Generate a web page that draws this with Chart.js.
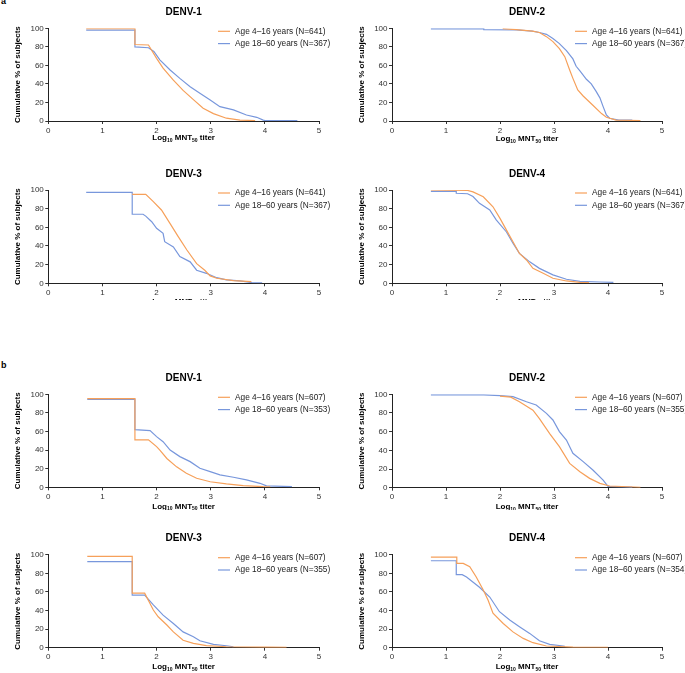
<!DOCTYPE html>
<html>
<head>
<meta charset="utf-8">
<script src="https://cdn.jsdelivr.net/npm/chart.js"></script>
<style>
  body { margin: 0; background: #fff; width: 685px; height: 673px; position: relative; overflow: hidden; }
  canvas { position: absolute; }
  .lab { position: absolute; font: bold 9px "Liberation Sans", Arial, sans-serif; line-height: 9px; color: #000; }
</style>
</head>
<body>
<div class="lab" style="left:1px;top:-3px">a</div>
<div class="lab" style="left:1px;top:361px">b</div>

<canvas id="a1" width="340" height="150" style="left:0;top:0"></canvas>
<canvas id="a2" width="345" height="150" style="left:340px;top:0"></canvas>
<canvas id="a3" width="340" height="150" style="left:0;top:150px"></canvas>
<canvas id="a4" width="345" height="150" style="left:340px;top:150px"></canvas>
<canvas id="b1" width="340" height="170" style="left:0;top:340px"></canvas>
<canvas id="b2" width="345" height="170" style="left:340px;top:340px"></canvas>
<canvas id="b3" width="340" height="153" style="left:0;top:520px"></canvas>
<canvas id="b4" width="345" height="153" style="left:340px;top:520px"></canvas>

<script>
// ---- data (log10 titer, cumulative %) ----
const xTicks = [0, 1, 2, 3, 4, 5];
const yTicks = [0, 20, 40, 60, 80, 100];

// a: DENV-1
const a1OrangeX = [0.7, 1.6, 1.6, 1.85, 2.0, 2.12, 2.31, 2.49, 2.68, 2.86, 3.05, 3.29, 3.54, 3.82];
const a1OrangeY = [99.5, 99.5, 82.5, 82, 67.6, 57, 44, 33, 23, 13.7, 8, 3, 1, 0.4];
const a1BlueX = [0.7, 1.6, 1.6, 1.85, 1.95, 2.06, 2.25, 2.43, 2.62, 2.80, 2.99, 3.17, 3.42, 3.66, 3.85, 3.97, 4.0, 4.6];
const a1BlueY = [98, 98, 80, 79, 75, 66, 55, 46, 37, 30, 22.7, 15.5, 12, 6.5, 4, 1, 0.5, 0.5];
// a: DENV-2
const a2OrangeX = [2.05, 2.3, 2.6, 2.73, 2.86, 2.98, 3.1, 3.2, 3.29, 3.35, 3.44, 3.54, 3.72, 3.88, 3.97, 4.15, 4.6];
const a2OrangeY = [99.5, 98.5, 97, 95.5, 91, 85.6, 78, 69.4, 55, 46, 33.5, 27, 17, 8, 4, 1, 0.5];
const a2BlueX = [0.72, 1.7, 1.7, 2.3, 2.6, 2.73, 2.86, 2.98, 3.1, 3.23, 3.35, 3.41, 3.48, 3.6, 3.69, 3.78, 3.85, 3.91, 3.97, 4.03, 4.2, 4.45];
const a2BlueY = [99.3, 99.3, 98.5, 98.2, 97, 95.5, 93.5, 89, 83.5, 76, 67, 59, 54, 45, 40, 32, 25, 15.5, 6.5, 3, 1, 1];
// a: DENV-3
const a3OrangeX = [1.55, 1.8, 1.94, 2.09, 2.25, 2.4, 2.56, 2.74, 2.89, 2.99, 3.11, 3.42, 3.75];
const a3OrangeY = [95.4, 95.4, 87.5, 78.6, 64, 50, 35.7, 21, 14, 7.9, 5.4, 2.9, 1.8];
const a3BlueX = [0.7, 1.55, 1.55, 1.75, 1.8, 1.91, 2.0, 2.12, 2.15, 2.31, 2.43, 2.62, 2.74, 2.92, 3.11, 3.29, 3.54, 3.76, 3.95];
const a3BlueY = [97.5, 97.5, 74, 74, 72, 66, 59, 53.6, 44.6, 39, 28.6, 23, 14, 10.7, 6, 3.6, 2.5, 0.7, 0.5];
// a: DENV-4
const a4OrangeX = [0.72, 1.4, 1.5, 1.69, 1.87, 2.0, 2.12, 2.24, 2.36, 2.49, 2.61, 2.8, 2.98, 3.23, 3.48, 3.65];
const a4OrangeY = [100, 99.5, 98, 92.8, 82, 69.6, 57, 44.6, 32, 25, 16, 10.7, 5.4, 2.5, 1, 0.7];
const a4BlueX = [0.72, 1.19, 1.19, 1.4, 1.5, 1.62, 1.81, 1.93, 2.12, 2.24, 2.36, 2.55, 2.73, 2.98, 3.23, 3.48, 3.85, 4.1];
const a4BlueY = [98.5, 98.5, 96.5, 96, 93, 85.7, 78.6, 68, 55, 43, 32, 23, 16, 9, 4.3, 2, 1.4, 1];

// b: DENV-1
const b1OrangeX = [0.72, 1.6, 1.6, 1.85, 2.0, 2.06, 2.19, 2.37, 2.55, 2.74, 2.99, 3.29, 3.6, 3.97, 4.1];
const b1OrangeY = [95.3, 95.3, 51, 51, 43.7, 40, 31, 22, 15, 9.7, 6, 3.6, 1.8, 0.7, 0.5];
const b1BlueX = [0.72, 1.6, 1.6, 1.88, 2.0, 2.12, 2.25, 2.43, 2.62, 2.8, 2.99, 3.17, 3.42, 3.66, 3.91, 4.03, 4.5];
const b1BlueY = [94.6, 94.6, 62, 61, 54.5, 49, 40, 33, 27.6, 20.4, 16.8, 13.3, 10.8, 7.9, 4.3, 1.5, 0.7];
// b: DENV-2
const b2OrangeX = [2.0, 2.2, 2.36, 2.61, 2.73, 2.92, 3.1, 3.29, 3.48, 3.66, 3.85, 4.03, 4.6];
const b2OrangeY = [98, 97, 92, 83, 74, 58, 44, 26, 17, 10, 4.6, 1.8, 0.5];
const b2BlueX = [0.72, 1.7, 2.0, 2.24, 2.49, 2.67, 2.86, 2.98, 3.1, 3.23, 3.35, 3.54, 3.72, 3.91, 4.0, 4.45];
const b2BlueY = [99.3, 99.3, 98.5, 97.5, 92, 88.6, 79.6, 72.5, 60, 51, 36.8, 27.9, 19, 8.2, 1.5, 0.7];
// b: DENV-3
const b3OrangeX = [0.72, 1.55, 1.55, 1.78, 1.94, 2.03, 2.19, 2.31, 2.49, 2.68, 2.92, 3.29, 4.03, 4.4];
const b3OrangeY = [98.2, 98.2, 58.6, 58.6, 40.5, 33.3, 24.4, 17, 8, 4.6, 2.2, 1, 0.7, 0.5];
const b3BlueX = [0.72, 1.55, 1.55, 1.78, 1.94, 2.12, 2.31, 2.49, 2.68, 2.8, 3.05, 3.29, 3.42];
const b3BlueY = [92.5, 92.5, 56.5, 56.5, 46, 35, 26, 17, 11.8, 7.5, 3.6, 2.1, 1];
// b: DENV-4
const b4OrangeX = [0.72, 1.2, 1.2, 1.32, 1.44, 1.56, 1.69, 1.78, 1.87, 2.06, 2.24, 2.43, 2.61, 2.86, 3.35, 4.0];
const b4OrangeY = [97.5, 97.5, 90.7, 90.7, 87, 76, 62, 51, 37, 26, 17, 10, 5.4, 1.8, 0.7, 0.5];
const b4BlueX = [0.72, 1.19, 1.19, 1.3, 1.38, 1.62, 1.81, 1.99, 2.18, 2.36, 2.55, 2.73, 2.92, 3.17, 3.2];
const b4BlueY = [93.5, 93.5, 78.5, 78.5, 76, 65, 54.5, 38.7, 29.7, 22.6, 15.4, 7.5, 3.6, 1.8, 1.5];

const legendA = ['Age 4\u201316 years (N=641)', 'Age 18\u201360 years (N=367)'];
const legendB1 = ['Age 4\u201316 years (N=607)', 'Age 18\u201360 years (N=353)'];
const legendB2 = ['Age 4\u201316 years (N=607)', 'Age 18\u201360 years (N=355)'];
const legendB3 = ['Age 4\u201316 years (N=607)', 'Age 18\u201360 years (N=355)'];
const legendB4 = ['Age 4\u201316 years (N=607)', 'Age 18\u201360 years (N=354)'];

const ORANGE = '#f6a05a';
const BLUE = '#7897dc';
const FONT = '"Liberation Sans", Arial, sans-serif';

// draws panel title, axis titles and the in-plot legend
const panelDecor = {
  id: 'panelDecor',
  afterDraw(chart, args, o) {
    const ctx = chart.ctx, a = chart.chartArea;
    ctx.save();
    ctx.fillStyle = '#000';
    ctx.textBaseline = 'middle';

    ctx.textAlign = 'center';
    ctx.font = 'bold 10px ' + FONT;
    ctx.fillText(o.title, (a.left + a.right) / 2, a.top - 16);

    ctx.save();
    ctx.translate(o.yTitleX, (a.top + a.bottom) / 2);
    ctx.rotate(-Math.PI / 2);
    ctx.font = 'bold 8px ' + FONT;
    ctx.fillText('Cumulative % of subjects', 0, 0);
    ctx.restore();

    // x title with subscripts
    const parts = [['Log', 0], ['10', 1], [' MNT', 0], ['50', 1], [' titer', 0]];
    const big = 'bold 8px ' + FONT, small = 'bold 5px ' + FONT;
    let total = 0;
    parts.forEach(p => { ctx.font = p[1] ? small : big; total += ctx.measureText(p[0]).width; });
    let x = (a.left + a.right) / 2 - total / 2;
    const y = a.bottom + o.xTitleDy;
    ctx.textAlign = 'left';
    parts.forEach(p => {
      ctx.font = p[1] ? small : big;
      ctx.fillText(p[0], x, p[1] ? y + 2.5 : y);
      x += ctx.measureText(p[0]).width;
    });

    // legend
    ctx.font = '8.3px ' + FONT;
    chart.data.datasets.forEach((ds, i) => {
      const ly = a.top + 2.5 + 12.3 * i;
      ctx.strokeStyle = ds.borderColor;
      ctx.lineWidth = 1.2;
      ctx.beginPath();
      ctx.moveTo(o.legX, ly + 0.5);
      ctx.lineTo(o.legX + 12, ly + 0.5);
      ctx.stroke();
      ctx.fillStyle = '#222';
      ctx.fillText(ds.label, o.legX + 17, ly + 0.5);
    });
    ctx.restore();
  }
};

function pts(xs, ys) { return xs.map((x, i) => ({ x: x, y: ys[i] })); }

function makePanel(id, title, labels, ox, oy, bx, by, box, right) {
  const cv = document.getElementById(id);
  const W = cv.width, H = cv.height;
  const L = right ? 52 : 48.3, R = right ? 322 : 319;
  const tickStyle = { font: { size: 8, family: FONT }, color: '#333', padding: 1.5, maxRotation: 0 };
  const gridStyle = { display: true, drawOnChartArea: false, drawTicks: true, tickLength: 3, color: '#333' };
  new Chart(cv, {
    type: 'line',
    data: {
      datasets: [
        { label: labels[0], data: pts(ox, oy), borderColor: ORANGE },
        { label: labels[1], data: pts(bx, by), borderColor: BLUE }
      ]
    },
    options: {
      responsive: false,
      animation: false,
      elements: { line: { borderWidth: 1.2, tension: 0, fill: false }, point: { radius: 0 } },
      layout: { padding: { left: 0, top: box.top, right: W - R, bottom: 0 } },
      plugins: {
        legend: { display: false },
        tooltip: { enabled: false },
        panelDecor: { title: title, yTitleX: right ? 21.7 : 17.3, xTitleDy: box.dy, legX: right ? 235 : 218 }
      },
      scales: {
        x: {
          type: 'linear', min: 0, max: 5,
          afterBuildTicks: s => { s.ticks = xTicks.map(v => ({ value: v })); },
          ticks: tickStyle, grid: gridStyle,
          border: { display: true, color: '#222', width: 1 },
          afterFit: s => { s.height = H - box.bottom; }
        },
        y: {
          min: 0, max: 100,
          afterBuildTicks: s => { s.ticks = yTicks.map(v => ({ value: v })); },
          ticks: tickStyle, grid: gridStyle,
          border: { display: true, color: '#222', width: 1 },
          afterFit: s => { s.width = L; }
        }
      }
    },
    plugins: [panelDecor]
  });
}

makePanel('a1', 'DENV-1', legendA, a1OrangeX, a1OrangeY, a1BlueX, a1BlueY, { top: 28.3, bottom: 121, dy: 17 }, false);
makePanel('a2', 'DENV-2', legendA, a2OrangeX, a2OrangeY, a2BlueX, a2BlueY, { top: 28.3, bottom: 121, dy: 18 }, true);
makePanel('a3', 'DENV-3', legendA, a3OrangeX, a3OrangeY, a3BlueX, a3BlueY, { top: 40, bottom: 133.3, dy: 18 }, false);
makePanel('a4', 'DENV-4', legendA, a4OrangeX, a4OrangeY, a4BlueX, a4BlueY, { top: 40, bottom: 133.3, dy: 18 }, true);
makePanel('b1', 'DENV-1', legendB1, b1OrangeX, b1OrangeY, b1BlueX, b1BlueY, { top: 54.3, bottom: 147.3, dy: 19 }, false);
makePanel('b2', 'DENV-2', legendB2, b2OrangeX, b2OrangeY, b2BlueX, b2BlueY, { top: 54.3, bottom: 147.7, dy: 19 }, true);
makePanel('b3', 'DENV-3', legendB3, b3OrangeX, b3OrangeY, b3BlueX, b3BlueY, { top: 34.7, bottom: 127.7, dy: 19 }, false);
makePanel('b4', 'DENV-4', legendB4, b4OrangeX, b4OrangeY, b4BlueX, b4BlueY, { top: 34.7, bottom: 127.7, dy: 19 }, true);
</script>
</body>
</html>
